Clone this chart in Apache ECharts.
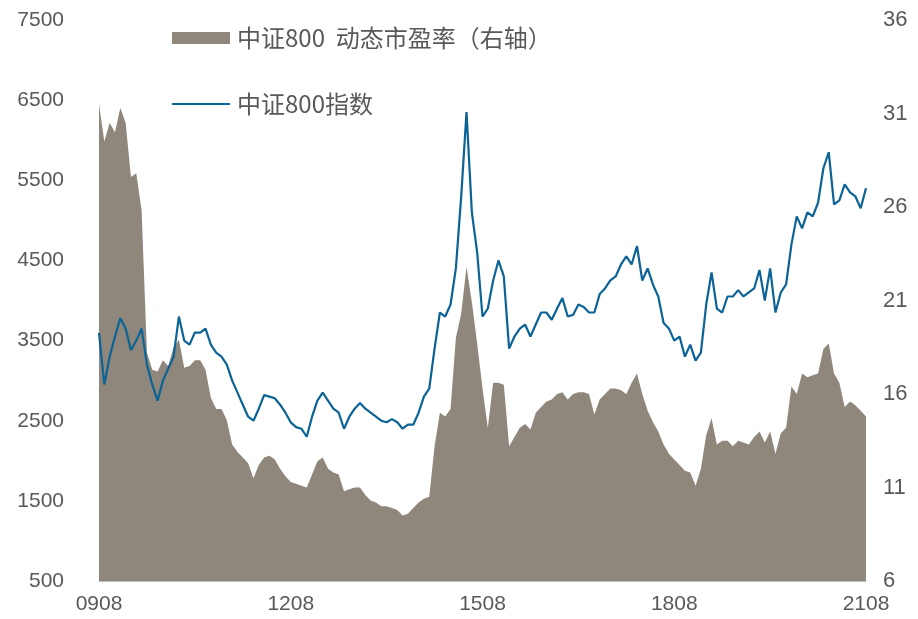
<!DOCTYPE html>
<html><head><meta charset="utf-8">
<script src="https://cdn.jsdelivr.net/npm/echarts@6/dist/echarts.min.js"></script>
<style>html,body{margin:0;padding:0;background:#fff}#c{width:918px;height:619px}</style>
</head><body><div id="c"></div>
<script>
// monthly, 2009-08 .. 2021-08
var startYear = 2009, startMonth = 8, monthCount = 145;
var indexValues = [
3595,2950,3300,3550,3780,3650,3380,3500,3650,3200,2950,2750,
3000,3150,3300,3800,3500,3450,3600,3600,3650,3450,3350,3300,
3200,3000,2850,2700,2550,2500,2650,2820,2800,2780,2700,2600,
2480,2420,2400,2300,2550,2750,2850,2750,2650,2600,2400,2550,
2650,2720,2650,2600,2550,2500,2480,2520,2480,2400,2450,2450,
2600,2800,2900,3400,3850,3800,3950,4400,5300,6350,5100,4600,
3800,3900,4250,4500,4300,3400,3550,3650,3700,3550,3700,3850,
3850,3760,3900,4030,3800,3820,3950,3920,3850,3850,4080,4150,
4250,4300,4450,4550,4450,4680,4250,4400,4200,4050,3720,3650,
3500,3550,3300,3450,3250,3350,3950,4350,3900,3850,4050,4050,
4130,4050,4100,4150,4380,4000,4400,3850,4100,4200,4700,5050,
4900,5100,5050,5220,5650,5850,5200,5250,5450,5350,5300,5150,
5400];
var peValues = [
31.5,29.5,30.5,30.0,31.3,30.5,27.6,27.8,25.8,18.2,17.3,17.2,
17.8,17.5,18.5,18.9,17.4,17.5,17.8,17.8,17.3,15.8,15.2,15.2,
14.6,13.3,12.9,12.6,12.3,11.5,12.2,12.6,12.7,12.5,12.0,11.6,
11.3,11.2,11.1,11.0,11.7,12.4,12.6,12.0,11.8,11.7,10.8,10.9,
11.0,11.0,10.6,10.3,10.2,10.0,10.0,9.9,9.8,9.5,9.6,9.9,
10.2,10.4,10.5,13.2,15.0,14.8,15.2,19.0,20.3,22.8,20.9,18.7,
16.3,14.2,16.6,16.6,16.5,13.2,13.7,14.2,14.4,14.1,15.0,15.3,
15.6,15.7,16.0,16.1,15.7,16.0,16.1,16.1,16.0,14.9,15.7,16.0,
16.3,16.3,16.2,16.0,16.6,17.1,16.0,15.1,14.5,14.0,13.3,12.8,
12.5,12.2,11.9,11.8,11.1,12.0,13.8,14.7,13.3,13.5,13.5,13.2,
13.5,13.4,13.3,13.7,14.0,13.4,14.0,12.8,13.9,14.2,16.4,16.0,
17.1,16.9,17.0,17.1,18.4,18.7,17.1,16.6,15.3,15.6,15.4,15.1,
14.8];
var tickLabels = ['0908','1208','1508','1808','2108'];
var seriesNames = ['中证800  动态市盈率（右轴）','中证800指数'];

var categories = [];
for (var i = 0; i < monthCount; i++) {
  var m = startMonth - 1 + i;
  var y = startYear + Math.floor(m / 12);
  var mm = m % 12 + 1;
  categories.push(String(y % 100).padStart(2,'0') + String(mm).padStart(2,'0'));
}

var textColor = '#595959';
var chart = echarts.init(document.getElementById('c'));
chart.setOption({
  animation: false,
  backgroundColor: '#fff',
  grid: {left: 99, right: 52, top: 20, bottom: 38},
  legend: [
    {data: [{name: seriesNames[0], icon: 'rect'}], left: 172, top: 26, padding: 0, itemWidth: 58, itemHeight: 12, itemGap: 6,
     textStyle: {color: textColor, fontSize: 24, fontFamily: 'Noto Sans CJK SC', padding: [0,0,0,2]}},
    {data: [{name: seriesNames[1], icon: 'path://M0,0 L58,0 L58,2 L0,2 Z'}], left: 172, top: 92, padding: 0, itemWidth: 58, itemHeight: 2, itemGap: 6,
     textStyle: {color: textColor, fontSize: 24, fontFamily: 'Noto Sans CJK SC', padding: [0,0,0,2]}}
  ],
  xAxis: {
    type: 'category', data: categories, boundaryGap: false,
    axisLine: {show: true, lineStyle: {color: '#bfbfbf', width: 1}},
    axisTick: {show: false},
    axisLabel: {
      color: textColor, fontSize: 21, fontFamily: '"Liberation Sans Narrow", "Liberation Sans"', margin: 13,
      interval: 0,
      formatter: function (v) { return tickLabels.indexOf(v) >= 0 ? v : ''; }
    },
    splitLine: {show: false}
  },
  yAxis: [
    {type: 'value', min: 500, max: 7500, interval: 1000, position: 'left',
     axisLine: {show: false}, axisTick: {show: false}, splitLine: {show: false},
     axisLabel: {color: textColor, fontSize: 21, fontFamily: 'Liberation Sans', margin: 35,
       formatter: function (v) { return String(v); }}},
    {type: 'value', min: 6, max: 36, interval: 5, position: 'right',
     axisLine: {show: false}, axisTick: {show: false}, splitLine: {show: false},
     axisLabel: {color: textColor, fontSize: 22, fontFamily: 'Liberation Sans', margin: 17,
       formatter: function (v) { return String(v); }}}
  ],
  series: [
    {name: seriesNames[0], type: 'line', yAxisIndex: 1, data: peValues, symbol: 'none',
     lineStyle: {width: 0, color: '#8f877c'}, itemStyle: {color: '#8f877c'},
     areaStyle: {color: '#8f877c', opacity: 1}, z: 1},
    {name: seriesNames[1], type: 'line', yAxisIndex: 0, data: indexValues, symbol: 'none',
     lineStyle: {width: 2.2, color: '#0b6396'}, itemStyle: {color: '#0b6396'}, z: 3}
  ]
});
</script></body></html>
